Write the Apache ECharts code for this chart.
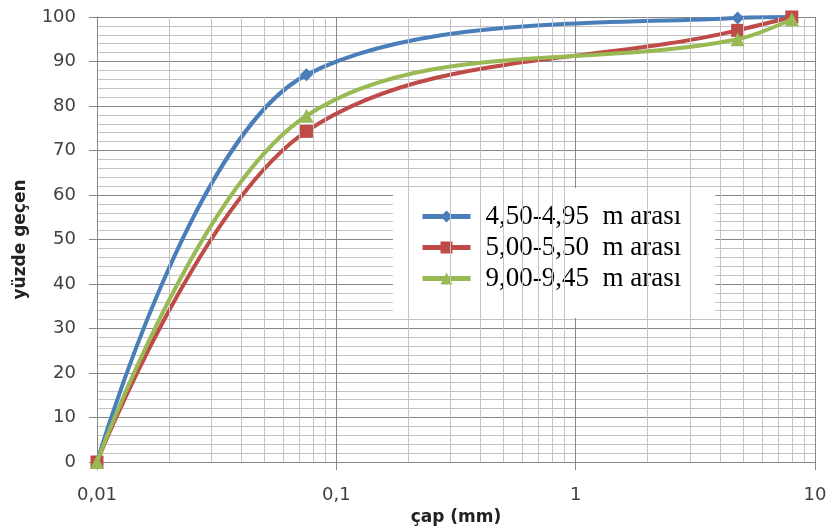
<!DOCTYPE html>
<html>
<head>
<meta charset="utf-8">
<script src="https://cdn.jsdelivr.net/npm/echarts@6/dist/echarts.min.js"></script>
<style>html,body{margin:0;padding:0;background:#fff}#c{width:835px;height:531px}</style>
</head>
<body>
<div id="c"></div>
<script>
// ---- data ----
const sizes = [0.01, 0.075, 4.75, 8];
const seriesNames = ['4,50-4,95  m arası', '5,00-5,50  m arası', '9,00-9,45  m arası'];
const pass1 = [0, 87, 99.8, 100];
const pass2 = [0, 74.3, 97, 100];
const pass3 = [0, 77.8, 95, 99.5];
const minorX = [0.02,0.03,0.04,0.05,0.06,0.07,0.08,0.09,0.2,0.3,0.4,0.5,0.6,0.7,0.8,0.9,2,3,4,5,6,7,8,9];
const xTitle = 'çap (mm)';
const yTitle = 'yüzde geçen';

const colors = ['#4A7EBB', '#BE4B48', '#98B954'];
const symbols = ['diamond', 'rect', 'triangle'];
const symbolSizes = [13, 13, 14];

function pairs(ys) { return sizes.map((x, i) => [x, ys[i]]); }
const allVals = [pass1, pass2, pass3];

const chart = echarts.init(document.getElementById('c'), null, {renderer: 'canvas'});
const lineSeries = allVals.map((vals, i) => ({
  name: seriesNames[i],
  type: 'line',
  data: pairs(vals),
  smooth: 0.35,
  clip: false,
  symbol: symbols[i],
  symbolSize: symbolSizes[i],
  showAllSymbol: true,
  lineStyle: {width: 4, color: colors[i]},
  itemStyle: {color: colors[i]},
  z: 3 + i,
  animation: false
}));

chart.setOption({
  animation: false,
  color: colors,
  grid: {left: 97, right: 20, top: 17, bottom: 69},
  legend: {
    orient: 'vertical',
    left: 393, top: 188,
    backgroundColor: '#ffffff',
    padding: [15, 34, 26, 27],
    itemGap: 4,
    itemWidth: 48,
    itemHeight: 15,
    lineStyle: {width: 5},
    data: seriesNames,
    textStyle: {fontFamily: 'Liberation Serif', fontSize: 27, color: '#000', padding: [0, 0, 0, 10]}
  },
  xAxis: {
    type: 'log', logBase: 10, min: 0.01, max: 10,
    name: xTitle, nameLocation: 'middle', nameGap: 45,
    nameTextStyle: {fontFamily: 'DejaVu Sans', fontWeight: 'bold', fontSize: 17, color: '#222'},
    axisLine: {show: true, lineStyle: {color: '#868686', width: 1}},
    axisTick: {show: true, length: 8, lineStyle: {color: '#868686'}},
    axisLabel: {
      fontFamily: 'DejaVu Sans', fontSize: 18, color: '#404040', margin: 24,
      formatter: v => String(Number(Number(v).toPrecision(6))).replace('.', ',')
    },
    splitLine: {show: true, lineStyle: {color: '#878787', width: 1}}
  },
  yAxis: {
    type: 'value', min: 0, max: 100, interval: 10,
    name: yTitle, nameLocation: 'middle', nameGap: 68, nameRotate: 90,
    nameTextStyle: {fontFamily: 'DejaVu Sans', fontWeight: 'bold', fontSize: 17, color: '#222'},
    axisLine: {show: true, lineStyle: {color: '#868686', width: 1}},
    axisTick: {show: true, length: 8, lineStyle: {color: '#868686'}},
    axisLabel: {fontFamily: 'DejaVu Sans', fontSize: 18, color: '#404040', margin: 21},
    splitLine: {show: true, lineStyle: {color: '#878787', width: 1}},
    minorTick: {show: false, splitNumber: 5},
    minorSplitLine: {show: true, lineStyle: {color: '#c3c3c3', width: 1}}
  },
  series: [{
    type: 'line', data: [], silent: true, z: 1,
    markLine: {
      silent: true, symbol: ['none', 'none'], animation: false,
      label: {show: false},
      lineStyle: {color: '#c3c3c3', width: 1, type: 'solid'},
      emphasis: {disabled: true},
      data: minorX.map(v => ({xAxis: v}))
    }
  }].concat(lineSeries)
});
</script>
</body>
</html>
